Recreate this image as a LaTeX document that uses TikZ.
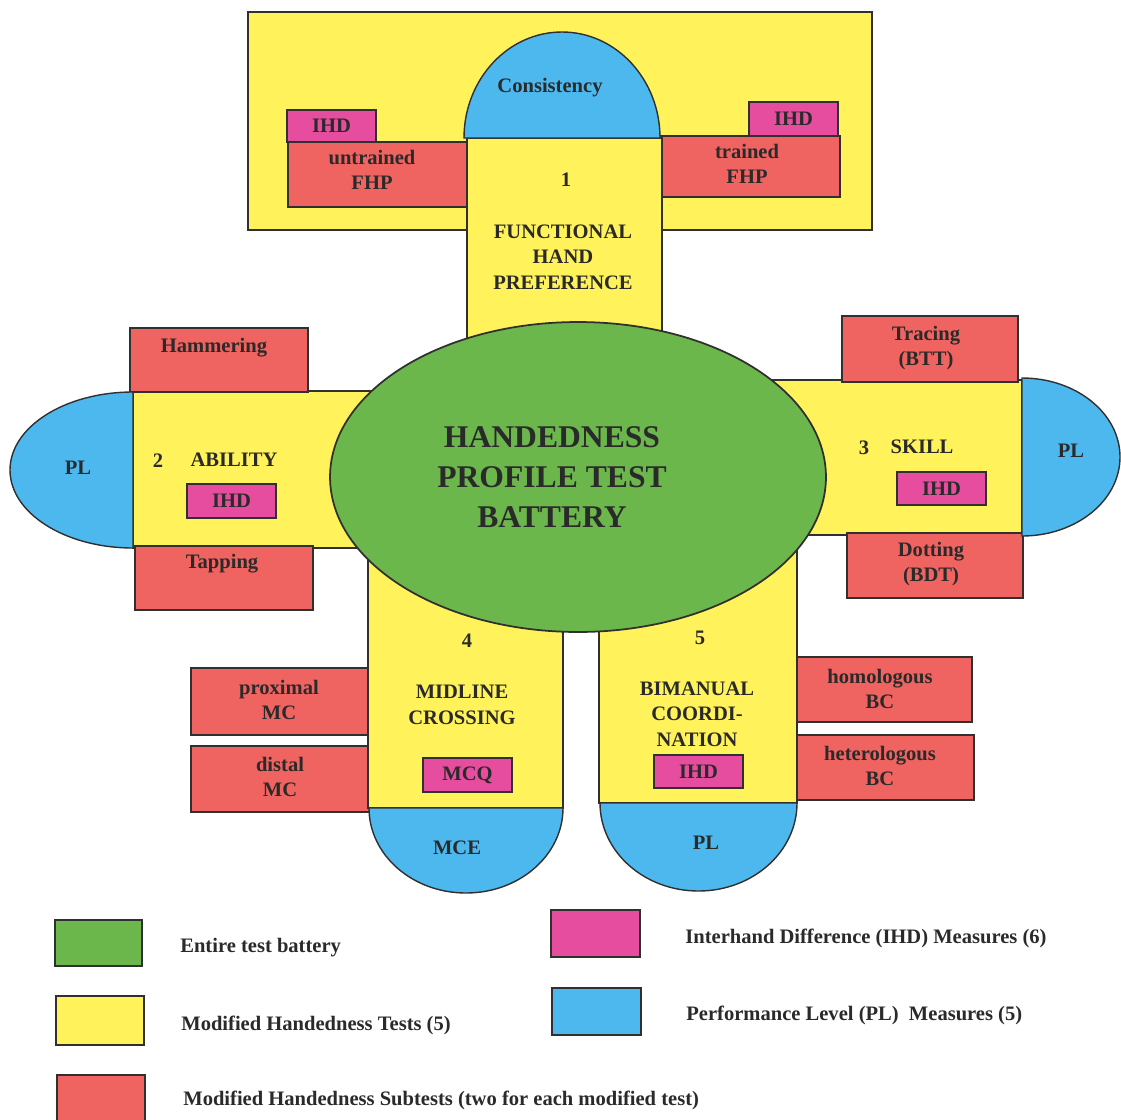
\documentclass[tikz,border=0pt]{standalone}
\usepackage{fontspec}
\setmainfont{Liberation Serif}
\usetikzlibrary{fit, shapes.geometric}
\definecolor{edge}{HTML}{303030}
\definecolor{ink}{HTML}{2A2A2A}
\definecolor{yfill}{HTML}{FFF25A}
\definecolor{gfill}{HTML}{6CB74C}
\definecolor{rfill}{HTML}{EF6360}
\definecolor{pfill}{HTML}{E64D9E}
\definecolor{bfill}{HTML}{4CB8EE}
\tikzset{
  ybox/.style = {draw=edge, fill=yfill, line width=0.9pt, inner sep=0pt},
  rbox/.style = {draw=edge, fill=rfill, line width=0.7pt, inner sep=0pt},
  pbox/.style = {draw=edge, fill=pfill, line width=0.7pt, inner sep=0pt},
  dome/.style = {draw=edge, fill=bfill, line width=0.8pt},
  lbl/.style  = {text=ink, align=center, inner sep=0pt},
  keybox/.style = {draw=edge, line width=0.7pt, inner sep=0pt},
}

\begin{document}
\begin{tikzpicture}[x=0.02cm, y=-0.02cm,
  every node/.style={font=\fontsize{11.7}{14.5}\selectfont\bfseries}]
\useasboundingbox (0,0) rectangle (1121,1119);

%% ---- (1) Functional hand preference ----
\node[ybox, fit={(248,12)(872,230)}] (fhpback) {};
\node[rbox, fit={(288,142)(467,207)}] (untrained) {};
\node[pbox, fit={(287,110)(376,142)}] (ihdun) {};
\node[rbox, fit={(660,136)(840,197)}] (trained) {};
\node[pbox, fit={(749,102)(838,136)}] (ihdtr) {};
\node[ybox, fit={(467,138)(662,345)}] (fhpcol) {};
\draw[dome] (464,138) arc[start angle=180, end angle=360, x radius=98, y radius=106] -- cycle;
\node[lbl] (untrainedtxt) at (372,170) {untrained\\FHP};
\node[lbl] (ihduntxt) at (ihdun) {IHD};
\node[lbl] (trainedtxt) at (747,164) {trained\\FHP};
\node[lbl] (ihdtrtxt) at (ihdtr) {IHD};
\node[lbl] (consist) at (550,88) {Consistency};
\node[lbl] (fhpnum) at (566,180) {1};
\node[lbl] (fhptxt) at (563,257) {FUNCTIONAL\\HAND\\PREFERENCE};

%% ---- (2) Ability ----
\node[ybox, fit={(133,391)(420,548)}] (ability) {};
\node[rbox, fit={(130,328)(308,392)}] (hammer) {};
\node[lbl] (hammerlbl) at (214,348) {Hammering};
\node[rbox, fit={(135,546)(313,610)}] (tapping) {};
\node[lbl] (tappinglbl) at (222,564) {Tapping};
\draw[dome] (133,392) arc[start angle=270, end angle=90, x radius=123, y radius=78] -- cycle;
\node[lbl] (plab) at (78,468) {PL};
\node[lbl] (abnum) at (158,461) {2};
\node[lbl] (abtxt) at (234,460) {ABILITY};
\node[pbox, fit={(187,484)(276,518)}] (ihdab) {};
\node[lbl] (ihdabtxt) at (ihdab) {IHD};

%% ---- (3) Skill ----
\node[ybox, fit={(740,380)(1022,535)}] (skill) {};
\node[rbox, fit={(842,316)(1018,382)}] (tracing) {};
\node[rbox, fit={(847,533)(1023,598)}] (dotting) {};
\node[lbl] (tracingtxt) at (926,348) {Tracing\\(BTT)};
\node[lbl] (dottingtxt) at (931,564) {Dotting\\(BDT)};
\draw[dome] (1022,378) arc[start angle=270, end angle=450, x radius=98, y radius=79] -- cycle;
\node[lbl] (plsk) at (1071,451) {PL};
\node[lbl] (sknum) at (864,448) {3};
\node[lbl] (sktxt) at (922,447) {SKILL};
\node[pbox, fit={(897,472)(986,505)}] (ihdsk) {};
\node[lbl] (ihdsktxt) at (ihdsk) {IHD};

%% ---- (4) Midline crossing ----
\node[rbox, fit={(191,668)(370,735)}] (proximal) {};
\node[rbox, fit={(191,746)(370,812)}] (distal) {};
\node[lbl] (proximaltxt) at (279,700) {proximal\\MC};
\node[lbl] (distaltxt) at (280,777) {distal\\MC};
\node[ybox, fit={(368,520)(563,808)}] (midline) {};
\draw[dome] (369,808) arc[start angle=180, end angle=0, x radius=97, y radius=85] -- cycle;
\node[lbl] (mce) at (457,848) {MCE};
\node[lbl] (mcnum) at (467,641) {4};
\node[lbl] (mctxt) at (462,705) {MIDLINE\\CROSSING};
\node[pbox, fit={(423,758)(512,792)}] (mcq) {};
\node[lbl] (mcqtxt) at (mcq) {MCQ};

%% ---- (5) Bimanual coordination ----
\node[rbox, fit={(795,657)(972,722)}] (homol) {};
\node[rbox, fit={(797,735)(974,800)}] (heterol) {};
\node[lbl] (homoltxt) at (880,689) {homologous\\BC};
\node[lbl] (heteroltxt) at (880,766) {heterologous\\BC};
\node[ybox, fit={(599,520)(797,803)}] (bimanual) {};
\draw[dome] (600,803) arc[start angle=180, end angle=0, x radius=98.5, y radius=88] -- cycle;
\node[lbl] (plbc) at (706,843) {PL};
\node[lbl] (bcnum) at (700,638) {5};
\node[lbl] (bctxt) at (697,714) {BIMANUAL\\COORDI-\\NATION};
\node[pbox, fit={(654,755)(743,788)}] (ihdbc) {};
\node[lbl] (ihdbctxt) at (ihdbc) {IHD};

%% ---- Centre: whole battery ----
\node[ellipse, draw=edge, fill=gfill, line width=1pt, inner sep=0pt,
      minimum width=9.92cm, minimum height=6.2cm] (battery) at (578,477) {};
\node[lbl, font=\fontsize{18}{22.6}\selectfont\bfseries] (batterytxt) at (552,477)
  {HANDEDNESS\\PROFILE TEST\\BATTERY};

%% ---- Legend ----
\node[keybox, fill=gfill, fit={(55,920)(142,966)}] (keyg) {};
\node[keybox, fill=yfill, fit={(56,996)(144,1045)}] (keyy) {};
\node[keybox, fill=rfill, fit={(57,1075)(145,1125)}] (keyr) {};
\node[keybox, fill=pfill, fit={(551,910)(640,957)}] (keyp) {};
\node[keybox, fill=bfill, fit={(552,988)(641,1035)}] (keyb) {};
\node[lbl, anchor=west] (keygtxt) at (180,948) {Entire test battery};
\node[lbl, anchor=west] (keyytxt) at (181,1025) {Modified Handedness Tests (5)};
\node[lbl, anchor=west] (keyrtxt) at (183,1100) {Modified Handedness Subtests (two for each modified test)};
\node[lbl, anchor=west] (keyptxt) at (685,938) {Interhand Difference (IHD) Measures (6)};
\node[lbl, anchor=west] (keybtxt) at (686,1015) {Performance Level (PL)\ \ Measures (5)};

\end{tikzpicture}
\end{document}
